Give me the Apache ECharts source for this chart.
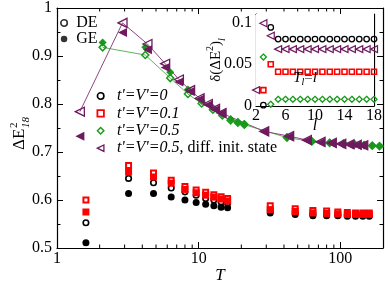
<!DOCTYPE html>
<html><head><meta charset="utf-8">
<script src="https://cdn.jsdelivr.net/npm/echarts@6/dist/echarts.min.js"></script>
<style>html,body{margin:0;padding:0;background:#fff}#c{width:386px;height:284px}</style>
</head><body><div id="c"></div>
<script>
// ---------- main panel data ----------
const T0 = [1.6,3.2,4.8,6.4,8,9.6,11.2,12.8,14.4,16,32,48,64,80,96,112,128,144,160];
const deV0  = [0.5525,0.645,0.636,0.625,0.617,0.610,0.603,0.600,0.596,0.593,0.578,0.574,0.571,0.570,0.570,0.569,0.569,0.569,0.569];
const geV0  = [0.511,0.6135,0.6135,0.606,0.600,0.595,0.591,0.588,0.585,0.584,0.573,0.570,0.567,0.567,0.567,0.566,0.566,0.566,0.566];
const deV01 = [0.600,0.672,0.656,0.641,0.628,0.621,0.616,0.611,0.607,0.603,0.588,0.582,0.578,0.577,0.575,0.574,0.573,0.573,0.573];
const geV01 = [0.575,0.658,0.648,0.635,0.622,0.615,0.610,0.606,0.602,0.598,0.580,0.576,0.573,0.572,0.571,0.570,0.570,0.570,0.570];
const Tg = [2.1,4.2,6.3,8.4,10.5,12.6,14.7,16.8,18.9,21,42,63,84,105,126,147,168,189];
const deV05 = [0.918,0.902,0.854,0.821,0.801,0.788,0.776,0.766,0.761,0.757,0.730,0.722,0.719,0.717,0.716,0.714,0.713,0.712];
const geV05 = [0.928,0.918,0.866,0.830,0.806,0.792,0.779,0.769,0.763,0.759,0.731,0.723,0.720,0.718,0.716,0.715,0.714,0.713];
const Tp = [1.45,2.9,4.35,5.8,7.25,8.7,10.15,11.6,13.05,14.5,29,43.5,58,72.5,87,101.5,116,130.5,145];
const deDiff = [0.784,0.969,0.925,0.884,0.851,0.829,0.812,0.800,0.790,0.781,0.743,0.733,0.725,0.721,0.719,0.717,0.716,0.715,0.714];
const geDiff = [0.733,0.949,0.913,0.876,0.846,0.826,0.810,0.798,0.788,0.780,0.742,0.732,0.724,0.720,0.718,0.716,0.715,0.714,0.713];
const xMinorTicks = [2,3,4,5,6,7,8,9,20,30,40,50,60,70,80,90];
// ---------- inset data ----------
const lVals  = [2,3,4,5,6,7,8,9,10,11,12,13,14,15,16,17,18];
const dV0    = [null,0.001,0.094,0.080,0.080,0.080,0.080,0.080,0.080,0.080,0.080,0.080,0.080,0.080,0.080,0.080,0.080];
const dV01   = [null,0.019,0.050,0.041,0.041,0.041,0.041,0.041,0.041,0.041,0.041,0.041,0.041,0.041,0.041,0.041,0.041];
const dV05   = [null,0.0585,0.002,0.008,0.008,0.008,0.008,0.008,0.008,0.008,0.008,0.008,0.008,0.008,0.008,0.008,0.008];
const dDiff  = [0.019,0.099,0.084,0.068,0.068,0.068,0.068,0.068,0.068,0.068,0.068,0.068,0.068,0.068,0.068,0.068,0.068];

const N0 = "t'=V'=0", N01 = "t'=V'=0.1", N05 = "t'=V'=0.5", ND = "t'=V'=0.5, diff. init. state";
const F = "'Liberation Serif','Times New Roman',serif";
const GREEN = '#17991a', GREENL = '#5ab85a', PURP = '#6f1a5f', PURPL = '#8c4a80', RED = '#ff0000';
const LEFT_TRI = 'path://M0,5L10,0L10,10Z';

const zip = (xs, ys) => xs.map((x, i) => [x, ys[i]]).filter(p => p[1] != null);

const chart = echarts.init(document.getElementById('c'));
const tickStyle = {color:'#000', width:1};
const lineAx = {show:true, onZero:false, lineStyle:{color:'#000', width:1.2}};
const lab = {color:'#000', fontFamily:F, fontSize:16};

function sc(name, x, y, sym, size, fill, stroke, bw, extra, xi, yi) {
  return Object.assign({
    type:'scatter', name, data: zip(x, y), symbol: sym, symbolSize: size,
    xAxisIndex: xi||0, yAxisIndex: yi||0,
    itemStyle: {color: fill, borderColor: stroke || fill, borderWidth: bw || 0, opacity:1},
    emphasis:{disabled:true}, silent:true, z: 3
  }, extra || {});
}

const option = {
  animation:false,
  backgroundColor:'#fff',
  grid:[
    {left:57, top:7, width:326, height:241},
    {left:256, top:14, width:118, height:92, show:true, backgroundColor:'#fff', borderWidth:0, z:1}
  ],
  xAxis:[
    {type:'log', logBase:10, min:1, max:200, gridIndex:0, position:'bottom',
     axisLine:lineAx, axisTick:{inside:true, length:6, lineStyle:tickStyle},
     axisLabel:Object.assign({margin:3, showMaxLabel:false}, lab), splitLine:{show:false}},
    {type:'log', logBase:10, min:1, max:200, gridIndex:0, position:'top',
     axisLine:lineAx, axisTick:{inside:true, length:6, lineStyle:tickStyle},
     axisLabel:{show:false}, splitLine:{show:false}},
    {type:'value', min:2, max:18, interval:4, gridIndex:1, position:'bottom',
     axisLine:lineAx, axisTick:{inside:true, length:5, lineStyle:tickStyle},
     minorTick:{show:true, splitNumber:2, length:3, lineStyle:tickStyle},
     axisLabel:Object.assign({margin:2}, lab), splitLine:{show:false}},
    {type:'value', min:2, max:18, interval:4, gridIndex:1, position:'top',
     axisLine:lineAx, axisTick:{inside:true, length:5, lineStyle:tickStyle},
     minorTick:{show:true, splitNumber:2, length:3, lineStyle:tickStyle},
     axisLabel:{show:false}, splitLine:{show:false}}
  ],
  yAxis:[
    {type:'value', min:0.5, max:1, interval:0.1, gridIndex:0, position:'left',
     axisLine:lineAx, axisTick:{inside:true, length:6, lineStyle:tickStyle},
     minorTick:{show:true, splitNumber:2, length:3.5, lineStyle:tickStyle},
     axisLabel:Object.assign({margin:5}, lab), splitLine:{show:false}},
    {type:'value', min:0.5, max:1, interval:0.1, gridIndex:0, position:'right',
     axisLine:lineAx, axisTick:{inside:true, length:6, lineStyle:tickStyle},
     minorTick:{show:true, splitNumber:2, length:3.5, lineStyle:tickStyle},
     axisLabel:{show:false}, splitLine:{show:false}},
    {type:'value', min:0, max:0.11, interval:0.05, gridIndex:1, position:'left',
     axisLine:lineAx, axisTick:{inside:true, length:5, lineStyle:tickStyle},
     minorTick:{show:true, splitNumber:2, length:3, lineStyle:tickStyle},
     axisLabel:Object.assign({margin:4, showMaxLabel:false}, lab), splitLine:{show:false}},
    {type:'value', min:0, max:0.11, interval:0.05, gridIndex:1, position:'right',
     axisLine:lineAx, axisTick:{inside:true, length:5, lineStyle:tickStyle},
     minorTick:{show:true, splitNumber:2, length:3, lineStyle:tickStyle},
     axisLabel:{show:false}, splitLine:{show:false}}
  ],
  legend:[
    {data:['DE','GE'], orient:'vertical', left:60, top:15, padding:0, itemGap:0,
     itemWidth:6.5, itemHeight:6.5, selectedMode:false, itemStyle:{borderWidth:1.6},
     formatter: n => ' ' + n, textStyle:{color:'#000', fontFamily:F, fontSize:16}},
    {data:[{name:N0, itemStyle:{borderWidth:1.6}},
           {name:N01, itemStyle:{borderWidth:1.8}},
           {name:N05, itemStyle:{borderWidth:1.4}},
           {name:ND, icon:LEFT_TRI, itemStyle:{color:'rgba(0,0,0,0)', borderColor:PURP, borderWidth:1.3}}],
     orient:'vertical', left:96.5, top:88, padding:0, itemGap:1.4,
     itemWidth:6.5, itemHeight:6.5, selectedMode:false,
     formatter: n => {
       const k = n.indexOf(',');
       return k < 0 ? '  {i|' + n + '}' : '  {i|' + n.slice(0, k) + '}{n|' + n.slice(k) + '}';
     },
     textStyle:{color:'#000', fontFamily:F, fontSize:16,
       rich:{i:{fontStyle:'italic', fontFamily:F, fontSize:16, color:'#000'},
             n:{fontFamily:F, fontSize:16, color:'#000'}}}}
  ],
  series:[
    // legend-only series
    {type:'scatter', name:'DE', data:[], symbol:'circle', itemStyle:{color:'rgba(0,0,0,0)', borderColor:'#000', borderWidth:1.6}},
    {type:'scatter', name:'GE', data:[], symbol:'circle', itemStyle:{color:'#000'}},
    // minor ticks on the log axis (bottom & top)
    {type:'custom', name:'minorticks', data: xMinorTicks.map(v => [v, 0.5]), xAxisIndex:0, yAxisIndex:0,
     silent:true, clip:false, z:5, encode:{x:0, y:1},
     renderItem:(p, api) => {
       const v = api.value(0);
       const b = api.coord([v, 0.5]), t = api.coord([v, 1]);
       return {type:'group', children:[
         {type:'line', shape:{x1:b[0], y1:b[1], x2:b[0], y2:b[1]-3.5}, style:{stroke:'#000', lineWidth:1}},
         {type:'line', shape:{x1:t[0], y1:t[1], x2:t[0], y2:t[1]+3.5}, style:{stroke:'#000', lineWidth:1}}
       ]};
     }},
    // main panel
    sc('ge0', T0, geV0, 'circle', 7, '#000'),
    sc(N0, T0, deV0, 'circle', 5.5, 'rgba(0,0,0,0)', '#000', 1.6),
    sc('ge01', T0, geV01, 'rect', 7, RED),
    sc(N01, T0, deV01, 'rect', 5, 'rgba(0,0,0,0)', RED, 2),
    {type:'line', name:'l05', data: zip(Tg, deV05), showSymbol:false, symbol:'none', silent:true,
     lineStyle:{color:GREENL, width:1}, z:2},
    sc('ge05', Tg, geV05, 'diamond', 8, GREEN),
    sc(N05, Tg, deV05, 'diamond', 7, 'rgba(0,0,0,0)', GREEN, 1.5),
    {type:'line', name:'lD', data: zip(Tp, deDiff), showSymbol:false, symbol:'none', silent:true,
     lineStyle:{color:PURPL, width:1}, z:2},
    sc('geD', Tp, geDiff, 'triangle', 9, PURP, null, 0, {symbolRotate:90}),
    sc(ND, Tp, deDiff, 'triangle', 9, 'rgba(0,0,0,0)', PURP, 1.3, {symbolRotate:90}),
    // inset
    sc('i0', lVals, dV0, 'circle', 5.5, 'rgba(0,0,0,0)', '#000', 1.3, {z:6}, 2, 2),
    sc('i01', lVals, dV01, 'rect', 5, 'rgba(0,0,0,0)', RED, 1.6, {z:6}, 2, 2),
    sc('i05', lVals, dV05, 'diamond', 6, 'rgba(0,0,0,0)', GREEN, 1.3, {z:6}, 2, 2),
    sc('iD', lVals, dDiff, 'triangle', 7, 'rgba(0,0,0,0)', PURP, 1.2, {z:6, symbolRotate:90}, 2, 2)
  ],
  graphic:[
    {type:'group', x:20, y:150, rotation:Math.PI/2, z:10, children:[
      {type:'text', x:0, y:0, style:{text:'ΔE', fontFamily:F, fontSize:17, fill:'#000', align:'left', verticalAlign:'middle'}},
      {type:'text', x:22, y:-6, style:{text:'2', fontFamily:F, fontSize:11, fill:'#000', align:'left', verticalAlign:'middle'}},
      {type:'text', x:22, y:6, style:{text:'18', fontFamily:F, fontSize:11, fontStyle:'italic', fill:'#000', align:'left', verticalAlign:'middle'}}
    ]},
    {type:'text', x:220, y:276, z:10, style:{text:'T', fontFamily:F, fontSize:17, fontStyle:'italic', fill:'#000', align:'center', verticalAlign:'middle'}},
    {type:'text', x:216, y:60, rotation:Math.PI/2, z:10, style:{
      text:'{a|δ(ΔE}{s|2}{a|)}{b|l}', fill:'#000', align:'center', verticalAlign:'middle',
      rich:{a:{fontFamily:F, fontSize:15, lineHeight:22, verticalAlign:'middle'},
            s:{fontFamily:F, fontSize:10, lineHeight:10, verticalAlign:'top'},
            b:{fontFamily:F, fontSize:10, fontStyle:'italic', lineHeight:10, verticalAlign:'bottom'}}}},
    {type:'text', x:315, y:126, z:10, style:{text:'l', fontFamily:F, fontSize:16, fontStyle:'italic', fill:'#000', align:'center', verticalAlign:'middle'}},
    {type:'text', x:305, y:78, z:10, style:{
      text:'{i|T}{b|l}{a|=}{i|l}', fill:'#000', align:'center', verticalAlign:'middle',
      rich:{i:{fontFamily:F, fontSize:15, fontStyle:'italic', lineHeight:18, verticalAlign:'middle'},
            a:{fontFamily:F, fontSize:15, lineHeight:18, verticalAlign:'middle'},
            b:{fontFamily:F, fontSize:10, fontStyle:'italic', lineHeight:10, verticalAlign:'bottom'}}}}
  ]
};
chart.setOption(option);
</script>
</body></html>
